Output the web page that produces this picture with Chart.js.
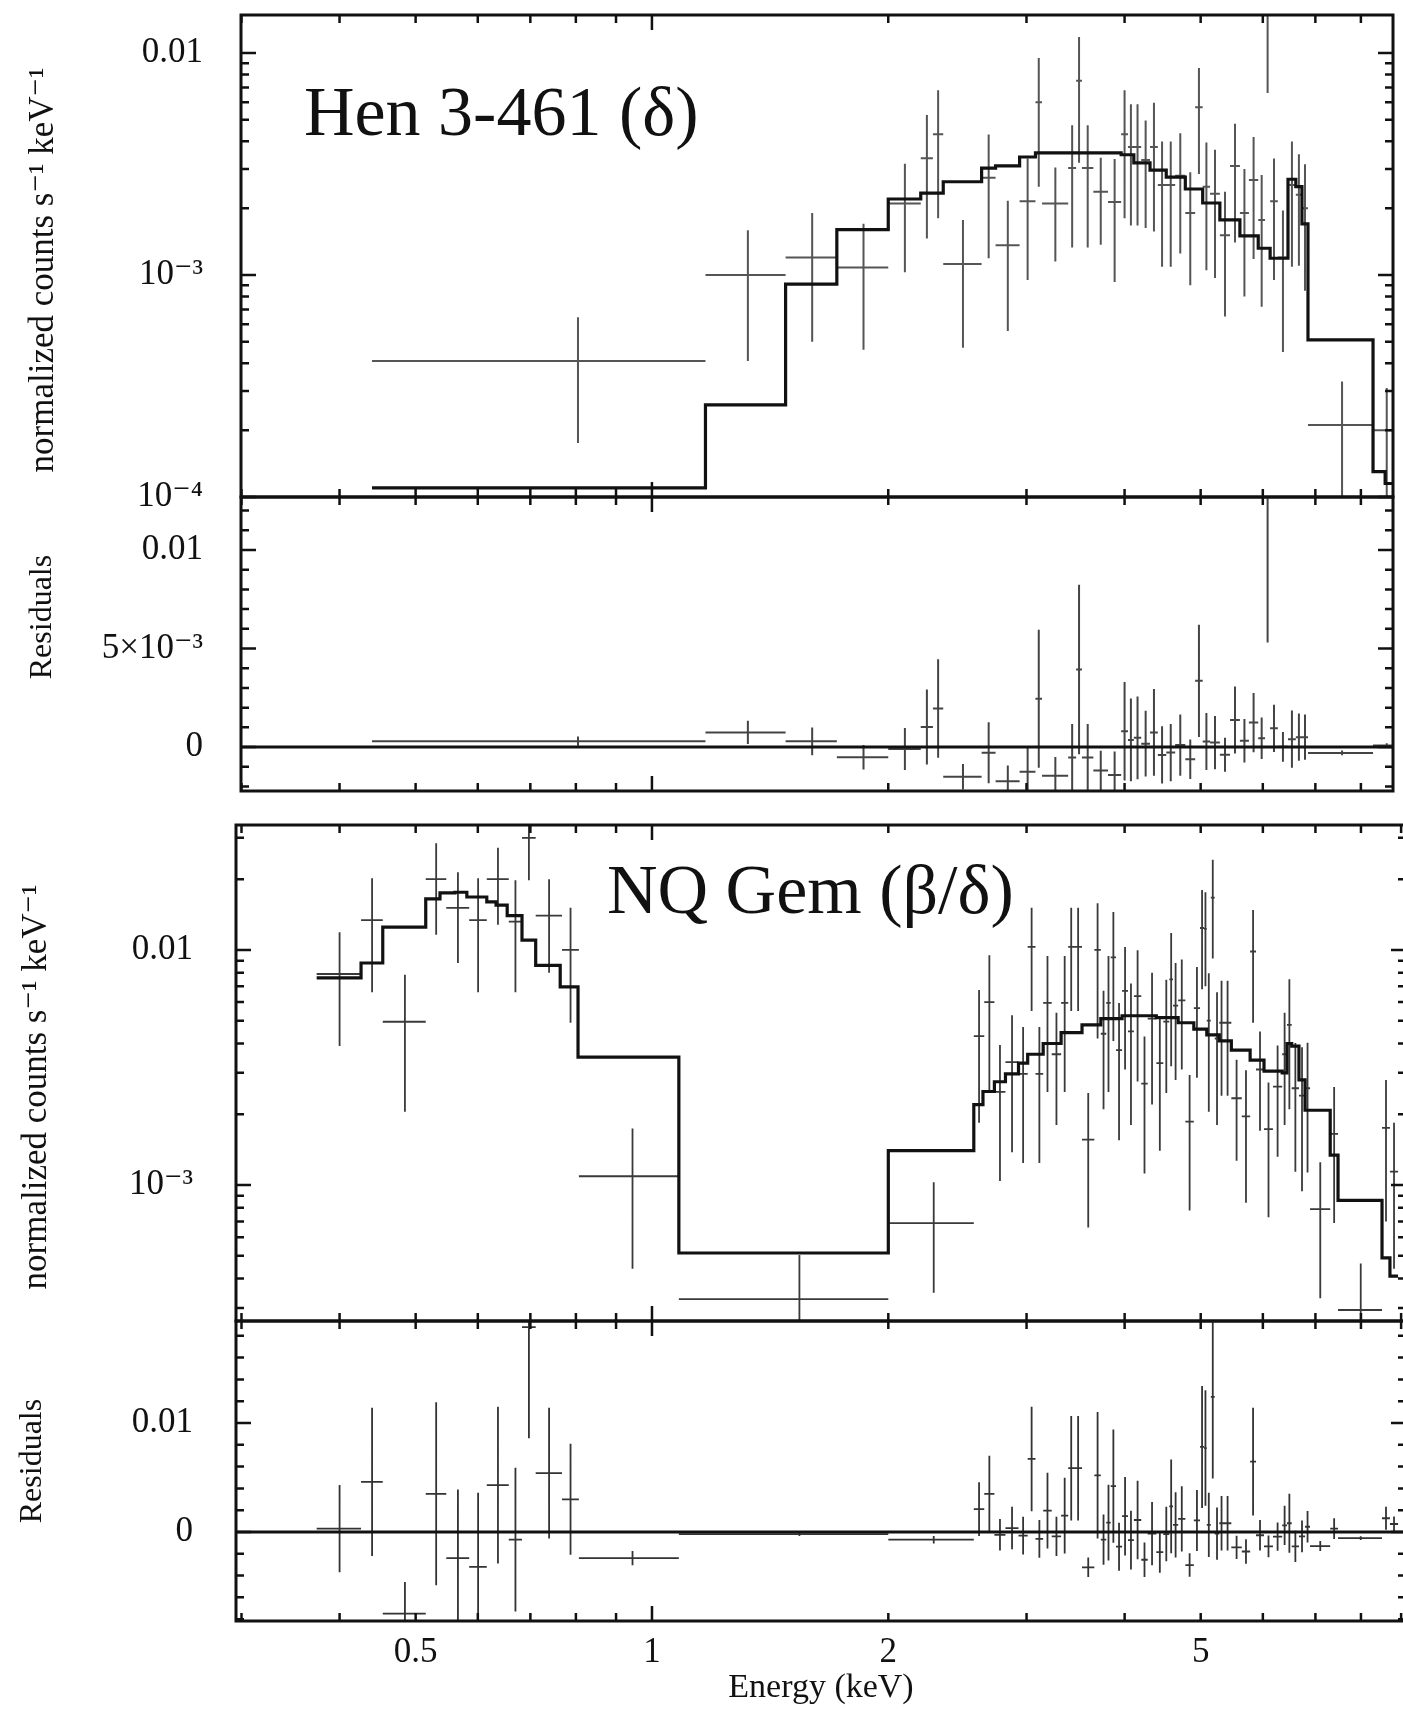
<!DOCTYPE html>
<html>
<head>
<meta charset="utf-8">
<title>Hen 3-461 and NQ Gem spectra</title>
<script src="https://cdn.jsdelivr.net/npm/chart.js@4.4.1/dist/chart.umd.min.js"></script>
<style>
  html, body { margin: 0; padding: 0; background: #fff; overflow: hidden; }
  #fig { position: relative; width: 1403px; height: 1709px; overflow: hidden; background: #fff; }
  #fig canvas { position: absolute; left: 0; }
</style>
</head>
<body>
<div id="fig">
  <canvas id="henSpec" width="1403" height="506" style="top:0px"></canvas>
  <canvas id="henRes" width="1403" height="312" style="top:488px"></canvas>
  <canvas id="nqSpec" width="1412" height="515" style="top:815px"></canvas>
  <canvas id="nqRes" width="1412" height="398" style="top:1311px"></canvas>
</div>
<script>
// energy ranges (keV) of the two figures
const topRange = [0.2996, 8.79];
const bottomRange = [0.2952, 9.13];
const xTicks = [0.5, 1, 2, 5];
const xLabels = ["0.5", "1", "2", "5"];
const xMajor = [1];
const xMinor = [0.3, 0.4, 0.5, 0.6, 0.7, 0.8, 0.9, 2, 3, 4, 5, 6, 7, 8, 9];

// Hen 3-461: folded model (bin edges + values)
const henModelEdges = [0.44, 1.17, 1.48, 1.72, 2.0, 2.2, 2.35, 2.63, 2.74, 2.94, 3.08, 3.96, 4.11, 4.31,
  4.52, 4.78, 5.03, 5.29, 5.61, 5.92, 6.13, 6.46, 6.61, 6.73, 6.85, 8.29, 8.59, 8.97];
const henModel = [1.1e-4, 2.6e-4, 9.1e-4, 1.6e-3, 2.2e-3, 2.34e-3, 2.63e-3, 3.03e-3, 3.1e-3, 3.4e-3,
  3.55e-3, 3.48e-3, 3.2e-3, 2.97e-3, 2.76e-3, 2.44e-3, 2.11e-3, 1.77e-3, 1.5e-3, 1.32e-3, 1.19e-3,
  2.7e-3, 2.5e-3, 1.7e-3, 5.1e-4, 1.3e-4, 1.15e-4];

// Hen 3-461: data bins, counts, 1-sigma errors, residuals
const henEdges = [0.44, 1.17, 1.48, 1.72, 2.0, 2.2, 2.28, 2.35, 2.63, 2.74, 2.94, 3.08, 3.14, 3.39, 3.47,
  3.53, 3.65, 3.81, 3.96, 4.04, 4.11, 4.20, 4.31, 4.41, 4.52, 4.64, 4.78, 4.92, 5.03, 5.14, 5.29, 5.45,
  5.61, 5.76, 5.92, 6.04, 6.13, 6.27, 6.46, 6.61, 6.73, 6.85, 8.29, 8.97];
const henCounts = [4.1e-4, 1.0e-3, 1.2e-3, 1.08e-3, 2.1e-3, 3.36e-3, 4.3e-3, 1.12e-3, 2.74e-3, 1.36e-3,
  2.15e-3, 6.0e-3, 2.1e-3, 3.03e-3, 7.5e-3, 3.03e-3, 2.37e-3, 2.13e-3, 4.3e-3, 3.77e-3, 3.77e-3, 3.3e-3,
  3.77e-3, 2.54e-3, 2.54e-3, 2.8e-3, 1.9e-3, 5.7e-3, 2.5e-3, 2.32e-3, 1.51e-3, 3.1e-3, 1.9e-3, 2.68e-3,
  1.77e-3, 0.0165, 2.15e-3, 1.2e-3, 2.54e-3, 2.3e-3, 2.0e-3, 2.11e-4, 2.0e-4];
const henErr = [2.35e-4, 5.9e-4, 7e-4, 6.2e-4, 1.07e-3, 1.9e-3, 2.5e-3, 6.5e-4, 1.55e-3, 8e-4, 1.2e-3,
  3.5e-3, 9.5e-4, 1.7e-3, 4.3e-3, 1.7e-3, 1.0e-3, 1.2e-3, 2.5e-3, 2.1e-3, 2.1e-3, 1.67e-3, 2.2e-3,
  1.45e-3, 1.45e-3, 1.55e-3, 1.0e-3, 2.85e-3, 1.45e-3, 1.35e-3, 8.6e-4, 1.7e-3, 1.1e-3, 1.5e-3, 1.05e-3,
  9.9e-3, 1.2e-3, 7.5e-4, 1.45e-3, 1.2e-3, 1.15e-3, 1.2e-4, 1.1e-4];
const henResid = [3.0e-4, 7.4e-4, 2.9e-4, -5.2e-4, -1e-4, 1.02e-3, 1.96e-3, -1.51e-3, -2.9e-4, -1.74e-3,
  -1.25e-3, 2.45e-3, -1.45e-3, -5.3e-4, 3.94e-3, -5.3e-4, -1.19e-3, -1.42e-3, 8e-4, 3.6e-4, 4.7e-4,
  1.7e-4, 7.4e-4, -4e-4, -2.8e-4, 1e-4, -6.2e-4, 3.36e-3, 2.8e-4, 2.3e-4, -3.9e-4, 1.37e-3, 3.2e-4,
  1.24e-3, 4.5e-4, 0.0152, 9.5e-4, 1e-5, 4e-4, 5e-4, 5e-4, -3.0e-4, 8e-5];

// NQ Gem: folded model
const nqModelEdges = [0.374, 0.426, 0.454, 0.515, 0.537, 0.561, 0.581, 0.616, 0.633, 0.654, 0.683, 0.711,
  0.764, 0.805, 1.082, 2.0, 2.57, 2.64, 2.73, 2.82, 2.93, 3.01, 3.15, 3.32, 3.53, 3.73, 3.97, 4.39, 4.68,
  4.90, 5.09, 5.28, 5.47, 5.78, 6.02, 6.35, 6.44, 6.53, 6.67, 6.79, 7.31, 7.48, 8.51, 8.71, 8.92];
const nqModel = [7.6e-3, 8.8e-3, 0.0125, 0.0165, 0.0175, 0.0176, 0.0168, 0.016, 0.0155, 0.014, 0.011,
  8.6e-3, 6.96e-3, 3.5e-3, 5.14e-4, 1.4e-3, 2.2e-3, 2.5e-3, 2.75e-3, 2.97e-3, 3.3e-3, 3.6e-3, 4.0e-3,
  4.45e-3, 4.8e-3, 5.1e-3, 5.25e-3, 5.15e-3, 4.9e-3, 4.6e-3, 4.35e-3, 4.1e-3, 3.75e-3, 3.4e-3, 3.05e-3,
  3.0e-3, 4.0e-3, 3.9e-3, 2.8e-3, 2.08e-3, 1.34e-3, 8.6e-4, 4.9e-4, 4.1e-4];

// NQ Gem: data bins, counts, errors, residuals
const nqEdges = [0.374, 0.426, 0.454, 0.515, 0.547, 0.585, 0.616, 0.657, 0.683, 0.711, 0.768, 0.807,
  1.082, 2.0, 2.57, 2.65, 2.73, 2.82, 2.93, 3.01, 3.08, 3.15, 3.23, 3.32, 3.39, 3.45, 3.53, 3.66, 3.73,
  3.79, 3.84, 3.90, 3.97, 4.04, 4.11, 4.20, 4.28, 4.39, 4.48, 4.56, 4.61, 4.68, 4.78, 4.90, 4.99, 5.05,
  5.09, 5.15, 5.21, 5.28, 5.35, 5.47, 5.64, 5.78, 5.88, 6.02, 6.18, 6.35, 6.44, 6.53, 6.67, 6.79, 6.89,
  7.31, 7.48, 8.51, 8.71, 8.92];
const nqCounts = [7.9e-3, 0.0134, 4.95e-3, 0.020, 0.0151, 0.0134, 0.020, 0.0132, 0.030, 0.0140, 0.0100,
  1.09e-3, 3.27e-4, 6.88e-4,
  4.3e-3, 6.0e-3, 2.49e-3, 3.33e-3, 2.97e-3, 0.0103, 2.97e-3, 5.96e-3, 3.6e-3, 5.96e-3, 0.0103, 0.0103,
  1.56e-3, 0.0100, 4.4e-3, 5.96e-3, 9.3e-3, 3.75e-3, 6.7e-3, 4.5e-3, 6.36e-3, 2.7e-3, 5.1e-3, 3.3e-3,
  4.96e-3, 7.5e-3, 5.8e-3, 6.1e-3, 1.86e-3, 5.66e-3, 0.0124, 0.0123, 5.0e-3, 0.0167, 4.2e-3, 4.9e-3,
  4.9e-3, 2.34e-3, 1.96e-3, 9.85e-3, 3.1e-3, 1.73e-3, 2.62e-3, 3.6e-3, 4.8e-3, 2.58e-3, 2.4e-3, 2.58e-3,
  7.9e-4, 1.65e-3, 2.94e-4, 1.75e-3, 1.14e-3];
const nqErr = [4.0e-3, 6.8e-3, 2.9e-3, 8.4e-3, 6.3e-3, 6.8e-3, 7.2e-3, 6.6e-3, 0.0102, 6.0e-3, 5.1e-3,
  6.5e-4, 1.77e-4, 3.4e-4,
  2.46e-3, 3.5e-3, 1.45e-3, 1.95e-3, 1.73e-3, 4.8e-3, 1.73e-3, 3.47e-3, 1.8e-3, 3.47e-3, 4.8e-3, 4.8e-3,
  9e-4, 5.8e-3, 2.3e-3, 3.47e-3, 5.2e-3, 2.2e-3, 3.6e-3, 2.7e-3, 3.6e-3, 1.58e-3, 2.9e-3, 1.9e-3, 2.5e-3,
  4.3e-3, 3.0e-3, 3.0e-3, 1.08e-3, 2.8e-3, 5.6e-3, 5.3e-3, 2.95e-3, 7.5e-3, 2.4e-3, 2.5e-3, 2.5e-3,
  1.07e-3, 1.12e-3, 4.95e-3, 1.4e-3, 1.0e-3, 1.3e-3, 1.8e-3, 2.7e-3, 1.44e-3, 1.46e-3, 1.45e-3, 4.6e-4,
  9.6e-4, 1.7e-4, 1.05e-3, 7.0e-4];
const nqResid = [3e-4, 4.6e-3, -7.5e-3, 3.5e-3, -2.4e-3, -3.2e-3, 4.3e-3, -7e-4, 0.0188, 5.4e-3, 3.0e-3,
  -2.4e-3, -1.9e-4, -7.1e-4,
  2.1e-3, 3.5e-3, -2.6e-4, 3.6e-4, -3.3e-4, 6.7e-3, -6.3e-4, 1.96e-3, -4e-4, 1.5e-3, 5.85e-3, 5.85e-3,
  -3.24e-3, 5.2e-3, -7e-4, 8.6e-4, 4.2e-3, -1.35e-3, 1.45e-3, -7.5e-4, 1.1e-3, -2.55e-3, -1.5e-4,
  -1.85e-3, -1.9e-4, 2.35e-3, 6.5e-4, 1.2e-3, -3.04e-3, 1.06e-3, 7.8e-3, 7.7e-3, 6.5e-4, 0.0124, -1.5e-4,
  8e-4, 8e-4, -1.41e-3, -1.79e-3, 6.45e-3, -3e-4, -1.32e-3, -4.3e-4, 6e-4, 8e-4, -1.32e-3, -4e-4, 4.8e-4,
  -1.29e-3, 3.1e-4, -5.7e-4, 1.26e-3, 7.3e-4];

// y tick labels
const henYTicks = [1e-4, 1e-3, 1e-2];
const henYLabels = ["10\u207B\u2074", "10\u207B\u00B3", "0.01"];
const henResTicks = [0, 0.005, 0.01];
const henResLabels = ["0", "5\u00D710\u207B\u00B3", "0.01"];
const nqYTicks = [1e-3, 1e-2];
const nqYLabels = ["10\u207B\u00B3", "0.01"];
const nqResTicks = [0, 0.01];
const nqResLabels = ["0", "0.01"];

const serif = '"Liberation Serif", "Times New Roman", "DejaVu Serif", serif';
const ink = "#111";
const countsTitle = "normalized counts s\u207B\u00B9 keV\u207B\u00B9";

function stepLine(edges, values) {
  const pts = [];
  values.forEach((v, i) => {
    pts.push({ x: edges[i], y: v }, { x: edges[i + 1], y: v });
  });
  return pts;
}

function crossPoints(edges, values, errs) {
  return values.map((v, i) => ({
    x: (edges[i] + edges[i + 1]) / 2,
    y: v,
    xMin: edges[i],
    xMax: edges[i + 1],
    yMin: v - errs[i],
    yMax: v + errs[i],
  }));
}

function logMinor(lo, hi) {
  const out = [];
  for (let d = -5; d <= -1; d++) {
    for (let k = 2; k <= 9; k++) {
      const v = k * Math.pow(10, d);
      if (v > lo && v < hi) out.push(v);
    }
  }
  return out;
}

function linMinor(from, to, step) {
  const out = [];
  for (let k = Math.round(from / step); k <= Math.round(to / step); k++) out.push(k * step);
  return out;
}

// error crosses, drawn under the model line
const errorBars = {
  id: "errorBars",
  beforeDatasetsDraw(chart) {
    const { ctx, chartArea: a, scales } = chart;
    const x = scales.x, y = scales.y;
    ctx.save();
    ctx.beginPath();
    ctx.rect(a.left, a.top, a.right - a.left, a.bottom - a.top);
    ctx.clip();
    chart.data.datasets.forEach((ds) => {
      if (!ds.crosses) return;
      ctx.strokeStyle = ds.crossColor;
      ctx.lineWidth = ds.crossWidth;
      ctx.beginPath();
      ds.data.forEach((p) => {
        const px = x.getPixelForValue(p.x);
        const py = y.getPixelForValue(p.y);
        const top = y.getPixelForValue(p.yMax);
        const bot = p.yMin > 0 || y.type !== "logarithmic" ? y.getPixelForValue(p.yMin) : a.bottom + 5;
        ctx.moveTo(x.getPixelForValue(p.xMin), py);
        ctx.lineTo(x.getPixelForValue(p.xMax), py);
        ctx.moveTo(px, top);
        ctx.lineTo(px, bot);
      });
      ctx.stroke();
    });
    ctx.restore();
  },
};

// box frame with inward ticks on all four sides
function frameTicks(yMajor, yMinor) {
  return {
    id: "frameTicks",
    afterDraw(chart) {
      const { ctx, chartArea: a, scales } = chart;
      const x = scales.x, y = scales.y;
      ctx.save();
      ctx.strokeStyle = ink;
      ctx.lineWidth = 2.5;
      ctx.beginPath();
      const xt = (vals, len) => vals.forEach((v) => {
        const px = x.getPixelForValue(v);
        if (px < a.left - 1 || px > a.right + 1) return;
        ctx.moveTo(px, a.bottom); ctx.lineTo(px, a.bottom - len);
        ctx.moveTo(px, a.top); ctx.lineTo(px, a.top + len);
      });
      const yt = (vals, len) => vals.forEach((v) => {
        const py = y.getPixelForValue(v);
        if (py < a.top - 1 || py > a.bottom + 1) return;
        ctx.moveTo(a.left, py); ctx.lineTo(a.left + len, py);
        ctx.moveTo(a.right, py); ctx.lineTo(a.right - len, py);
      });
      xt(xMinor, 8);
      xt(xMajor, 15);
      yt(yMinor, 8);
      yt(yMajor, 15);
      ctx.stroke();
      ctx.lineWidth = 3;
      ctx.strokeRect(a.left, a.top, a.right - a.left, a.bottom - a.top);
      ctx.restore();
    },
  };
}

// in-panel object name and rotated y title
function panelText(cfg) {
  return {
    id: "panelText",
    afterDraw(chart) {
      const ctx = chart.ctx;
      ctx.save();
      ctx.fillStyle = ink;
      if (cfg.label) {
        ctx.font = "70px " + serif;
        ctx.textBaseline = "alphabetic";
        ctx.textAlign = "left";
        ctx.fillText(cfg.label[0], cfg.label[1], cfg.label[2]);
      }
      const [text, tx, ty, size] = cfg.yTitle;
      ctx.translate(tx, ty);
      ctx.rotate(-Math.PI / 2);
      ctx.font = size + "px " + serif;
      ctx.textAlign = "center";
      ctx.textBaseline = "middle";
      ctx.fillText(text, 0, 0);
      ctx.restore();
    },
  };
}

function makePanel(id, cfg) {
  const showX = !!cfg.showX;
  const xScale = {
    type: "logarithmic",
    min: cfg.range[0],
    max: cfg.range[1],
    bounds: "data",
    display: showX,
    grid: { display: false },
    border: { display: false },
    afterBuildTicks: (s) => { s.ticks = xTicks.map((v) => ({ value: v })); },
    afterFit: (s) => {
      s.paddingLeft = 0;
      s.paddingRight = 0;
      if (showX) s.height = 88;
    },
    ticks: {
      autoSkip: false,
      maxRotation: 0,
      padding: 3,
      color: ink,
      font: { family: serif, size: 35 },
      callback: (v, i) => xLabels[i],
    },
    title: {
      display: showX,
      text: "Energy (keV)",
      color: ink,
      font: { family: serif, size: 34 },
      padding: { top: 0, bottom: 1 },
    },
  };

  return new Chart(document.getElementById(id), {
    type: "scatter",
    data: { datasets: cfg.datasets },
    options: {
      responsive: false,
      animation: false,
      devicePixelRatio: 1,
      events: [],
      layout: { padding: cfg.padding },
      plugins: { legend: { display: false }, tooltip: { enabled: false } },
      scales: {
        x: xScale,
        y: {
          type: cfg.yType,
          min: cfg.yMin,
          max: cfg.yMax,
          bounds: "data",
          grid: { display: false },
          border: { display: false },
          afterBuildTicks: (s) => { s.ticks = cfg.yTicks.map((v) => ({ value: v })); },
          afterFit: (s) => {
            s.width = cfg.left;
            s.paddingTop = 0;
            s.paddingBottom = 0;
          },
          ticks: {
            autoSkip: false,
            padding: cfg.labelPad,
            color: ink,
            font: { family: serif, size: 35 },
            callback: (v, i) => cfg.yLabels[i],
          },
          title: { display: false, text: cfg.yTitle[0] },
        },
      },
    },
    plugins: [errorBars, frameTicks(cfg.yTicks, cfg.yMinor), panelText(cfg)],
  });
}

function modelSet(edges, values) {
  return { data: stepLine(edges, values), showLine: true, borderColor: ink, borderWidth: 3.2,
    pointRadius: 0, pointHitRadius: 0, tension: 0 };
}
function crossSet(points, color, width) {
  return { data: points, showLine: false, pointRadius: 0, pointHitRadius: 0,
    crosses: true, crossColor: color, crossWidth: width };
}
function zeroSet(range) {
  return { data: [{ x: range[0], y: 0 }, { x: range[1], y: 0 }], showLine: true, borderColor: ink,
    borderWidth: 3, pointRadius: 0, pointHitRadius: 0 };
}

makePanel("henSpec", {
  range: topRange,
  padding: { left: 0, right: 10, top: 15, bottom: 9 },
  left: 241, labelPad: 30,
  yType: "logarithmic", yMin: 1e-4, yMax: 0.01483,
  yTicks: henYTicks, yLabels: henYLabels, yMinor: logMinor(1e-4, 0.01483),
  yTitle: [countsTitle, 44, 270, 35],
  label: ["Hen 3-461 (\u03B4)", 304, 135],
  datasets: [
    crossSet(crossPoints(henEdges, henCounts, henErr), "#555", 2),
    modelSet(henModelEdges, henModel),
  ],
});

makePanel("henRes", {
  range: topRange,
  padding: { left: 0, right: 10, top: 9, bottom: 9 },
  left: 241, labelPad: 30,
  yType: "linear", yMin: -0.00223, yMax: 0.01269,
  yTicks: henResTicks, yLabels: henResLabels, yMinor: linMinor(-0.002, 0.012, 0.001),
  yTitle: ["Residuals", 43, 129, 32],
  datasets: [
    crossSet(crossPoints(henEdges, henResid, henErr), "#444", 2),
    zeroSet(topRange),
  ],
});

makePanel("nqSpec", {
  range: bottomRange,
  padding: { left: 0, right: 6, top: 10, bottom: 9 },
  left: 236, labelPad: 35,
  yType: "logarithmic", yMin: 2.64e-4, yMax: 0.034,
  yTicks: nqYTicks, yLabels: nqYLabels, yMinor: logMinor(2.64e-4, 0.034),
  yTitle: [countsTitle, 37, 272, 35],
  label: ["NQ Gem (\u03B2/\u03B4)", 607, 98],
  datasets: [
    crossSet(crossPoints(nqEdges, nqCounts, nqErr), "#3a3a3a", 1.8),
    modelSet(nqModelEdges, nqModel),
  ],
});

makePanel("nqRes", {
  range: bottomRange,
  showX: true,
  padding: { left: 0, right: 6, top: 10, bottom: 0 },
  left: 236, labelPad: 35,
  yType: "linear", yMin: -0.00817, yMax: 0.01936,
  yTicks: nqResTicks, yLabels: nqResLabels, yMinor: linMinor(-0.008, 0.018, 0.002),
  yTitle: ["Residuals", 33, 150, 32],
  datasets: [
    crossSet(crossPoints(nqEdges, nqResid, nqErr), "#333", 1.8),
    zeroSet(bottomRange),
  ],
});
</script>
</body>
</html>
